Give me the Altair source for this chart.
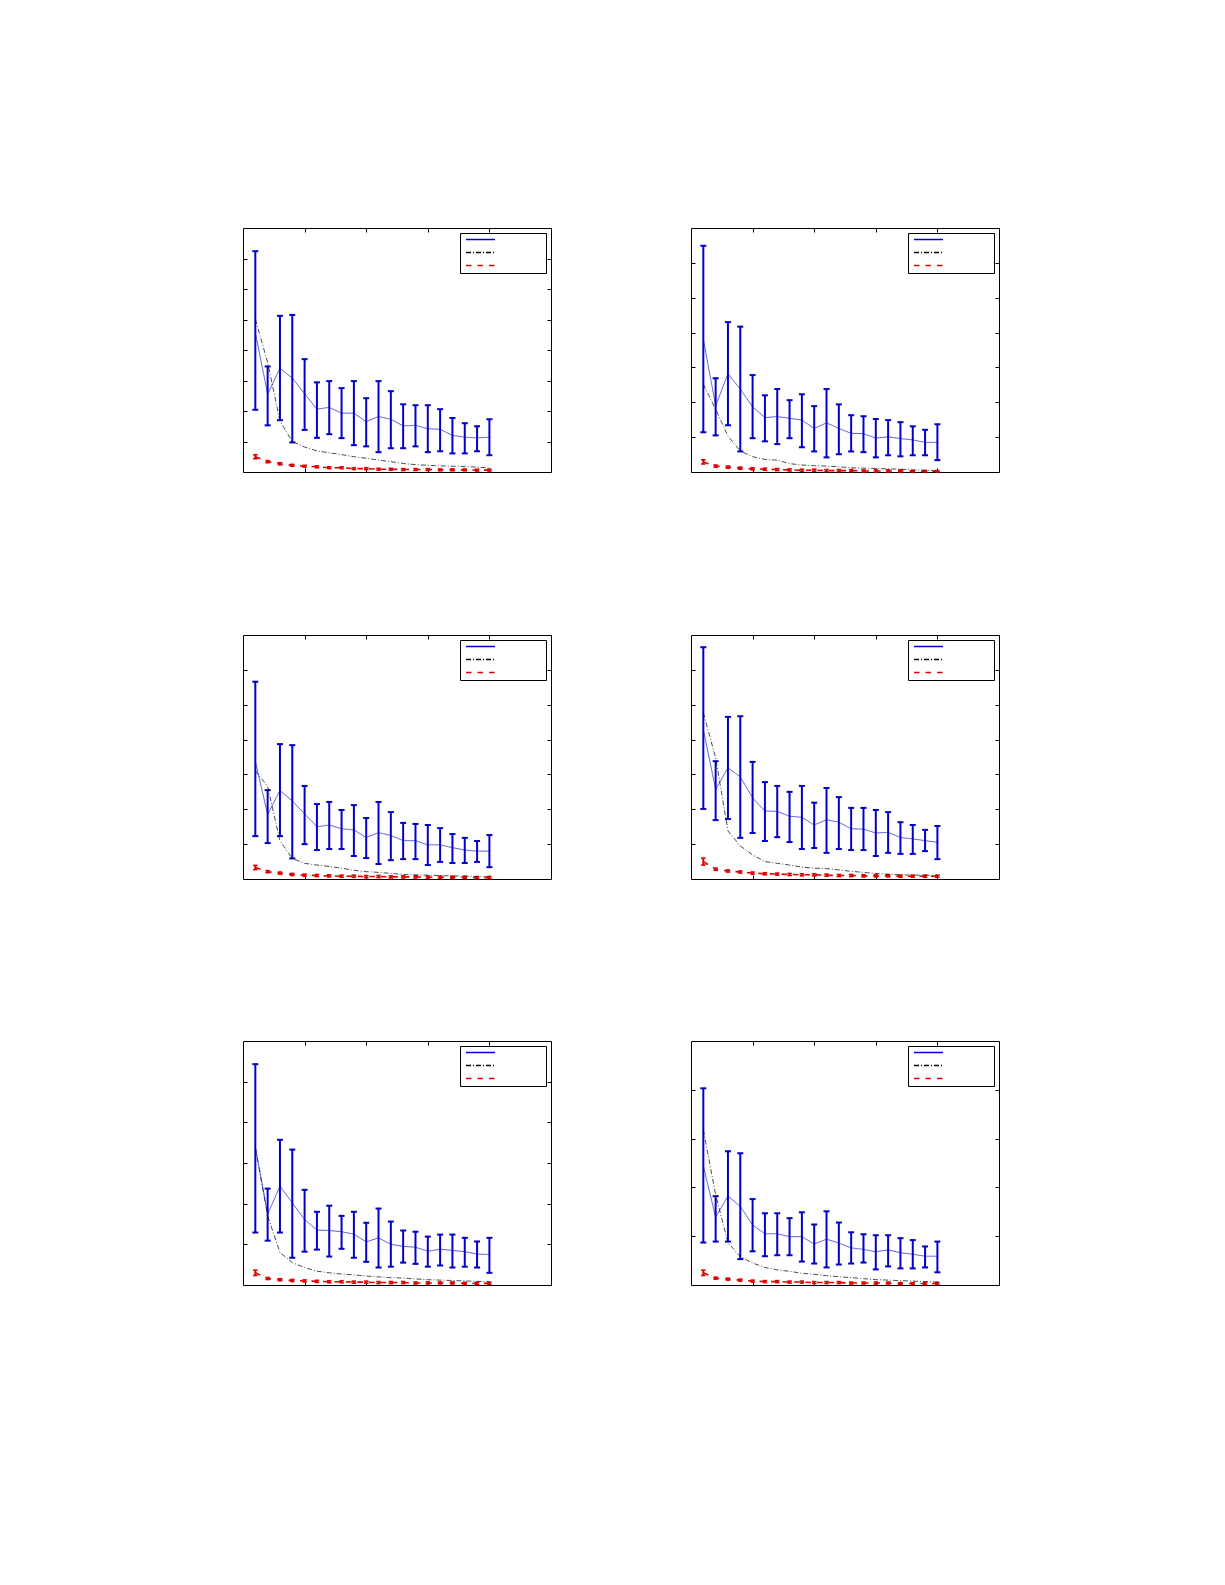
import altair as alt
import pandas as pd

# ---------------- data ----------------
X = list(range(1, 21))
X_MAX = 25
X_TICKS = [5, 10, 15, 20]
SERIES = ["Series 1", "Series 2", "Series 3"]
COLORS = ["#0000c8", "#000000", "#e00000"]
DASHES = [[1, 0], [5, 2, 1, 2], [5.5, 6]]
Y_MAX = [8, 7, 7, 7, 6, 5]

P1_MEAN = [4.58, 2.55, 3.40, 3.08, 2.57, 2.06, 2.12, 1.93, 1.93, 1.65, 1.82, 1.73, 1.51, 1.53, 1.42, 1.40, 1.20, 1.14, 1.12, 1.14]
P1_HI = [7.24, 3.46, 5.12, 5.15, 3.70, 2.94, 2.98, 2.75, 2.98, 2.42, 2.98, 2.65, 2.22, 2.19, 2.19, 2.06, 1.77, 1.60, 1.50, 1.73]
P1_LO = [2.04, 1.53, 1.70, 0.97, 1.38, 1.12, 1.24, 1.11, 0.88, 0.84, 0.65, 0.78, 0.78, 0.84, 0.65, 0.68, 0.61, 0.61, 0.68, 0.55]
P1_BLACK = [5.01, 3.59, 1.67, 1.00, 0.82, 0.69, 0.63, 0.57, 0.50, 0.45, 0.39, 0.34, 0.28, 0.24, 0.22, 0.20, 0.19, 0.18, 0.16, 0.13]
P1_RED = [0.50, 0.34, 0.27, 0.22, 0.19, 0.17, 0.14, 0.14, 0.11, 0.11, 0.09, 0.09, 0.08, 0.08, 0.08, 0.07, 0.07, 0.07, 0.06, 0.06]
P1_RED_ERR = [0.065, 0.035, 0.035, 0.03, 0.03, 0.03, 0.03, 0.03, 0.03, 0.03, 0.03, 0.03, 0.03, 0.03, 0.03, 0.03, 0.03, 0.03, 0.03, 0.03]

P2_MEAN = [3.81, 1.90, 2.82, 2.38, 1.87, 1.56, 1.59, 1.54, 1.49, 1.25, 1.41, 1.25, 1.11, 1.10, 0.97, 1.01, 0.96, 0.92, 0.85, 0.85]
P2_HI = [6.49, 2.69, 4.30, 4.17, 2.78, 2.20, 2.38, 2.06, 2.23, 1.89, 2.38, 1.94, 1.63, 1.60, 1.52, 1.49, 1.43, 1.31, 1.21, 1.37]
P2_LO = [1.14, 1.05, 1.34, 0.59, 0.97, 0.88, 0.80, 0.97, 0.71, 0.59, 0.42, 0.51, 0.59, 0.57, 0.42, 0.48, 0.45, 0.48, 0.48, 0.34]
P2_BLACK = [2.52, 1.80, 1.03, 0.60, 0.44, 0.36, 0.34, 0.24, 0.20, 0.18, 0.17, 0.15, 0.12, 0.11, 0.10, 0.09, 0.08, 0.06, 0.05, 0.04]
P2_RED = [0.29, 0.17, 0.14, 0.11, 0.09, 0.08, 0.07, 0.06, 0.05, 0.05, 0.04, 0.04, 0.04, 0.03, 0.03, 0.03, 0.03, 0.02, 0.02, 0.02]
P2_RED_ERR = [0.06, 0.03, 0.03, 0.03, 0.03, 0.03, 0.03, 0.03, 0.03, 0.03, 0.03, 0.03, 0.03, 0.03, 0.03, 0.03, 0.03, 0.02, 0.02, 0.02]

P3_MEAN = [3.38, 1.85, 2.54, 2.24, 1.87, 1.50, 1.55, 1.44, 1.41, 1.19, 1.33, 1.25, 1.10, 1.10, 0.98, 0.98, 0.90, 0.83, 0.80, 0.80]
P3_HI = [5.66, 2.55, 3.87, 3.84, 2.67, 2.15, 2.21, 1.98, 2.12, 1.75, 2.21, 1.92, 1.61, 1.58, 1.55, 1.46, 1.29, 1.18, 1.09, 1.26]
P3_LO = [1.23, 1.03, 1.23, 0.59, 1.00, 0.83, 0.86, 0.86, 0.66, 0.60, 0.43, 0.54, 0.57, 0.57, 0.40, 0.49, 0.46, 0.46, 0.49, 0.34]
P3_BLACK = [3.10, 2.66, 1.09, 0.59, 0.45, 0.40, 0.36, 0.31, 0.25, 0.21, 0.19, 0.16, 0.13, 0.12, 0.11, 0.10, 0.09, 0.08, 0.07, 0.06]
P3_RED = [0.33, 0.21, 0.17, 0.13, 0.11, 0.10, 0.09, 0.08, 0.08, 0.07, 0.07, 0.06, 0.06, 0.06, 0.05, 0.05, 0.05, 0.05, 0.04, 0.04]
P3_RED_ERR = [0.06, 0.03, 0.03, 0.03, 0.03, 0.03, 0.03, 0.03, 0.03, 0.03, 0.03, 0.03, 0.03, 0.03, 0.03, 0.03, 0.03, 0.03, 0.03, 0.03]

P4_MEAN = [4.29, 2.57, 3.19, 2.93, 2.33, 1.95, 1.94, 1.80, 1.77, 1.55, 1.70, 1.63, 1.44, 1.43, 1.32, 1.34, 1.19, 1.15, 1.10, 1.05]
P4_HI = [6.65, 3.38, 4.65, 4.67, 3.36, 2.78, 2.67, 2.50, 2.67, 2.19, 2.61, 2.35, 2.04, 2.04, 1.98, 1.92, 1.63, 1.55, 1.41, 1.52]
P4_LO = [2.01, 1.69, 1.72, 1.18, 1.32, 1.09, 1.20, 1.06, 0.86, 0.89, 0.75, 0.86, 0.83, 0.83, 0.66, 0.75, 0.72, 0.72, 0.80, 0.57]
P4_BLACK = [4.77, 3.48, 1.38, 0.95, 0.69, 0.50, 0.45, 0.40, 0.34, 0.31, 0.30, 0.26, 0.22, 0.19, 0.16, 0.14, 0.12, 0.11, 0.11, 0.10]
P4_RED = [0.50, 0.28, 0.23, 0.20, 0.17, 0.15, 0.14, 0.13, 0.12, 0.12, 0.11, 0.10, 0.10, 0.09, 0.09, 0.09, 0.08, 0.08, 0.08, 0.08]
P4_RED_ERR = [0.10, 0.03, 0.03, 0.03, 0.03, 0.03, 0.03, 0.03, 0.03, 0.03, 0.03, 0.03, 0.03, 0.03, 0.03, 0.03, 0.03, 0.03, 0.03, 0.03]

P5_MEAN = [3.40, 1.74, 2.43, 2.02, 1.61, 1.35, 1.34, 1.31, 1.25, 1.06, 1.16, 1.00, 0.95, 0.93, 0.83, 0.88, 0.85, 0.82, 0.76, 0.75]
P5_HI = [5.43, 2.37, 3.57, 3.33, 2.34, 1.80, 1.95, 1.70, 1.80, 1.53, 1.88, 1.56, 1.34, 1.31, 1.19, 1.24, 1.24, 1.16, 1.07, 1.16]
P5_LO = [1.29, 1.09, 1.29, 0.67, 0.82, 0.87, 0.70, 0.89, 0.67, 0.57, 0.43, 0.45, 0.55, 0.52, 0.45, 0.48, 0.43, 0.45, 0.43, 0.30]
P5_BLACK = [3.38, 1.70, 0.80, 0.55, 0.43, 0.34, 0.30, 0.27, 0.25, 0.22, 0.20, 0.18, 0.17, 0.15, 0.13, 0.12, 0.11, 0.10, 0.09, 0.08]
P5_RED = [0.30, 0.16, 0.13, 0.11, 0.10, 0.09, 0.08, 0.08, 0.07, 0.07, 0.06, 0.06, 0.06, 0.05, 0.05, 0.05, 0.05, 0.04, 0.04, 0.04]
P5_RED_ERR = [0.066, 0.025, 0.025, 0.025, 0.025, 0.025, 0.025, 0.025, 0.025, 0.025, 0.025, 0.025, 0.025, 0.025, 0.025, 0.025, 0.025, 0.025, 0.025, 0.025]

P6_MEAN = [2.44, 1.39, 1.82, 1.61, 1.23, 1.05, 1.05, 0.99, 0.99, 0.84, 0.94, 0.86, 0.76, 0.73, 0.68, 0.72, 0.66, 0.63, 0.59, 0.59]
P6_HI = [4.03, 1.82, 2.74, 2.70, 1.76, 1.47, 1.47, 1.37, 1.49, 1.24, 1.51, 1.28, 1.08, 1.04, 1.02, 1.02, 0.96, 0.92, 0.79, 0.89]
P6_LO = [0.87, 0.89, 0.89, 0.53, 0.69, 0.59, 0.61, 0.61, 0.48, 0.44, 0.36, 0.42, 0.44, 0.46, 0.32, 0.38, 0.34, 0.34, 0.36, 0.26]
P6_BLACK = [3.18, 1.85, 0.87, 0.58, 0.45, 0.36, 0.31, 0.28, 0.24, 0.22, 0.19, 0.17, 0.15, 0.13, 0.11, 0.10, 0.09, 0.08, 0.07, 0.06]
P6_RED = [0.25, 0.14, 0.12, 0.10, 0.08, 0.07, 0.07, 0.06, 0.06, 0.05, 0.05, 0.05, 0.04, 0.04, 0.04, 0.04, 0.03, 0.03, 0.03, 0.03]
P6_RED_ERR = [0.055, 0.02, 0.02, 0.02, 0.02, 0.02, 0.02, 0.02, 0.02, 0.02, 0.02, 0.02, 0.02, 0.02, 0.02, 0.02, 0.02, 0.02, 0.02, 0.02]

PANELS = [
    (P1_MEAN, P1_LO, P1_HI, P1_BLACK, P1_RED, P1_RED_ERR, Y_MAX[0]),
    (P2_MEAN, P2_LO, P2_HI, P2_BLACK, P2_RED, P2_RED_ERR, Y_MAX[1]),
    (P3_MEAN, P3_LO, P3_HI, P3_BLACK, P3_RED, P3_RED_ERR, Y_MAX[2]),
    (P4_MEAN, P4_LO, P4_HI, P4_BLACK, P4_RED, P4_RED_ERR, Y_MAX[3]),
    (P5_MEAN, P5_LO, P5_HI, P5_BLACK, P5_RED, P5_RED_ERR, Y_MAX[4]),
    (P6_MEAN, P6_LO, P6_HI, P6_BLACK, P6_RED, P6_RED_ERR, Y_MAX[5]),
]

# ---------------- styling ----------------
W, H = 308, 244
TICK = 4


def axis(orient, values):
    return alt.Axis(orient=orient, values=values, labels=False, domain=False,
                    grid=False, ticks=True, tickSize=TICK, offset=-TICK,
                    tickColor="black", tickWidth=1, title=None,
                    minExtent=0, maxExtent=0)


LEG = alt.Legend(orient="top-right", offset=5, title=None, symbolType="stroke",
                 symbolSize=841, symbolStrokeWidth=1.5, symbolOpacity=1,
                 labelOpacity=0, labelFontSize=9, labelFont="DejaVu Sans",
                 labelOffset=11, padding=2, rowPadding=3, symbolOffset=3,
                 clipHeight=9,
                 strokeColor="black", fillColor="white", cornerRadius=0)


def panel(mean, lo, hi, black, red, red_err, ymax):
    xs = alt.Scale(domain=[0, X_MAX], nice=False, zero=False)
    ys = alt.Scale(domain=[0, ymax], nice=False)
    yt = list(range(1, ymax))
    blue_df = pd.DataFrame({"x": X, "v": mean, "lo": lo, "hi": hi, "s": SERIES[0]})
    black_df = pd.DataFrame({"x": X, "v": black, "s": SERIES[1]})
    red_df = pd.DataFrame({"x": X, "v": red,
                           "lo": [r - e for r, e in zip(red, red_err)],
                           "hi": [r + e for r, e in zip(red, red_err)],
                           "s": SERIES[2]})
    color = alt.Color("s:N", scale=alt.Scale(domain=SERIES, range=COLORS), legend=LEG)
    dash = alt.StrokeDash("s:N", scale=alt.Scale(domain=SERIES, range=DASHES), legend=LEG)

    def xe(ax=None):
        return alt.X("x:Q", scale=xs, axis=ax)

    def ye(field, ax=None):
        return alt.Y(field, type="quantitative", scale=ys, axis=ax)

    layers = []
    # red error bars (carry the top / right axes)
    layers.append(alt.Chart(red_df).mark_rule(color=COLORS[2], strokeWidth=2).encode(
        x=xe(axis("top", X_TICKS)), y=ye("lo", axis("right", yt)), y2="hi:Q"))
    for f in ["lo", "hi"]:
        layers.append(alt.Chart(red_df).mark_tick(orient="horizontal", color=COLORS[2],
                                                  size=4.5, thickness=1.6, opacity=1).encode(
            x=xe(), y=ye(f)))
    # blue error bars
    layers.append(alt.Chart(blue_df).mark_rule(color=COLORS[0], strokeWidth=2).encode(
        x=xe(), y=ye("lo"), y2="hi:Q"))
    for f in ["lo", "hi"]:
        layers.append(alt.Chart(blue_df).mark_tick(orient="horizontal", color=COLORS[0],
                                                   size=6, thickness=2, opacity=1).encode(
            x=xe(), y=ye(f)))
    # lines
    layers.append(alt.Chart(black_df).mark_line(strokeWidth=1, opacity=0.7).encode(
        x=xe(), y=ye("v"), color=color, strokeDash=dash))
    layers.append(alt.Chart(red_df).mark_line(strokeWidth=1.6).encode(
        x=xe(), y=ye("v"), color=color, strokeDash=dash))
    layers.append(alt.Chart(blue_df).mark_line(strokeWidth=1, opacity=0.65).encode(
        x=xe(axis("bottom", X_TICKS)), y=ye("v", axis("left", yt)),
        color=color, strokeDash=dash))
    return alt.layer(*layers).resolve_axis(x="independent", y="independent").properties(
        width=W, height=H)


chart = alt.concat(*[panel(*p) for p in PANELS], columns=2,
                   spacing={"row": 158, "column": 138}).resolve_scale(
    color="independent", strokeDash="independent").resolve_legend(
    color="independent", strokeDash="independent").properties(
    padding={"left": 234, "top": 219, "right": 20, "bottom": 20},
    background="white").configure_view(stroke="black", strokeWidth=1)

chart.save("out.html", embed_options={"renderer": "svg", "actions": False})
